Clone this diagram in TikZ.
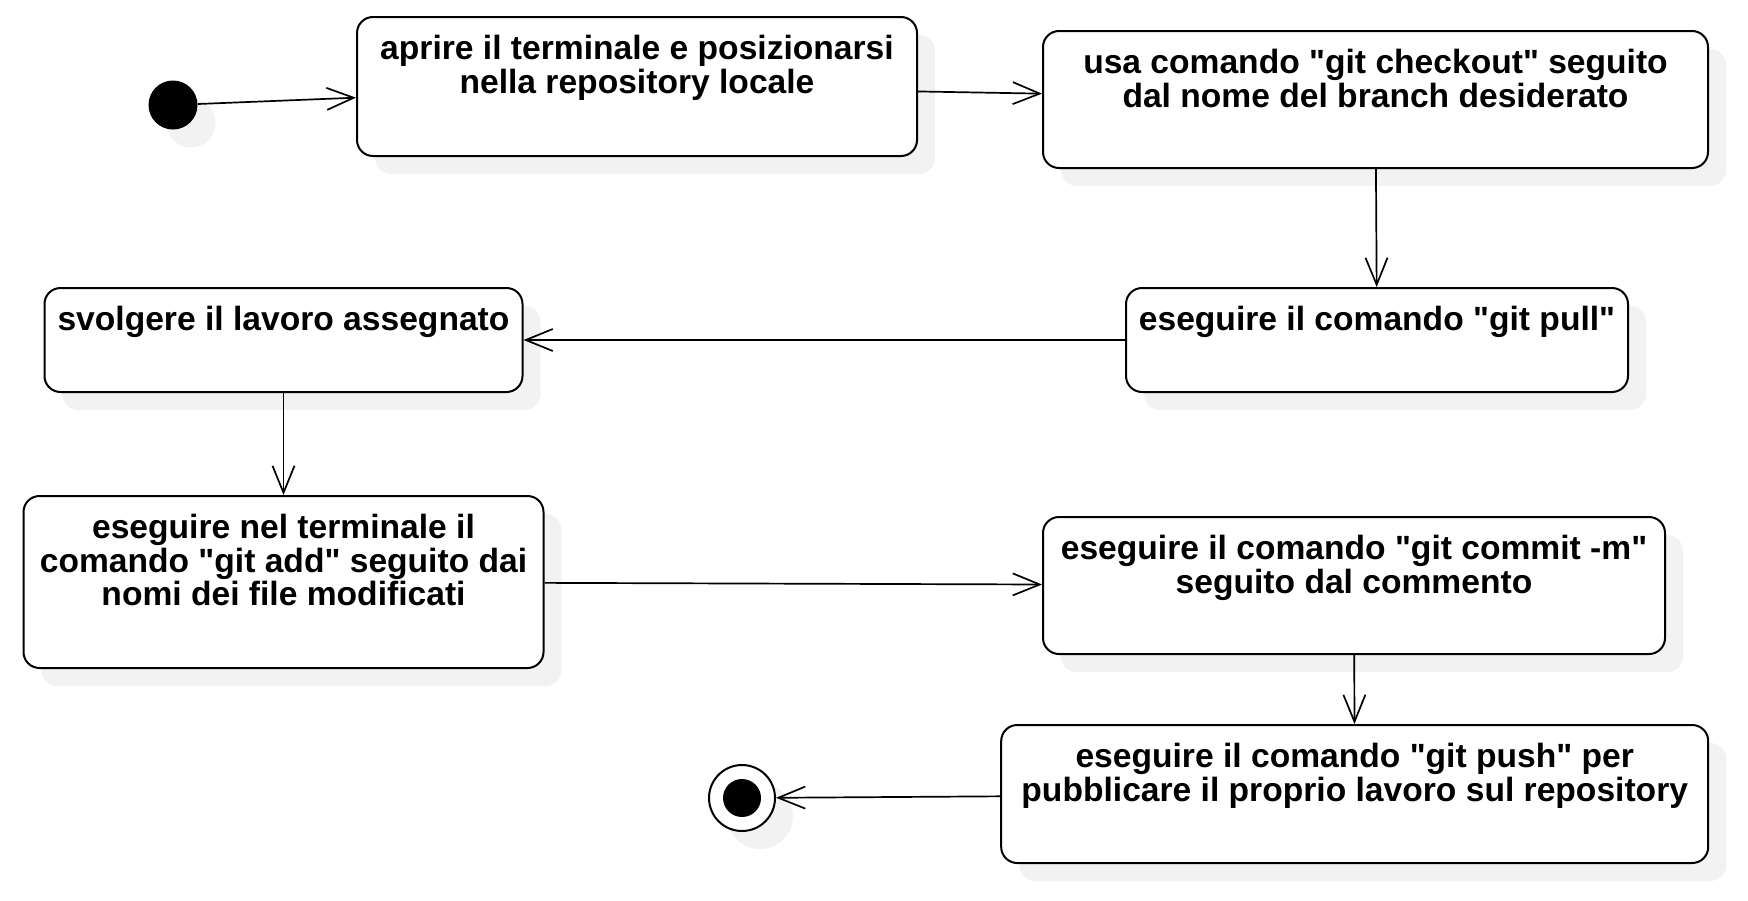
\documentclass[tikz,border=0pt]{standalone}
\usepackage{fontspec}
\setmainfont{Liberation Sans}
\usetikzlibrary{positioning}
\usetikzlibrary{arrows.meta}
\usetikzlibrary{shadows}
\newcommand{\qq}{\textquotedbl{}}

\begin{document}
\begin{tikzpicture}
    [
    x=0.5pt, y=-0.5pt,
    grey shadow/.style={drop shadow={shadow xshift=9pt, shadow yshift=-9pt, fill=black!5, opacity=1}},
    activity/.style={draw, line width=1pt, rounded corners=8pt, fill=white, inner sep=0pt, grey shadow},
    activity text/.style={align=center, inner sep=0pt, font=\bfseries\fontsize{16.8pt}{16.8pt}\selectfont},
    start state/.style={circle, fill=black, minimum size=24.5pt, inner sep=0pt, grey shadow},
    end state/.style={circle, draw, line width=1pt, fill=white, minimum size=33pt, inner sep=0pt, grey shadow},
    transition/.style={-{Straight Barb[length=13.5pt, width=11pt]}, line width=0.85pt},
    ]

    \useasboundingbox (0,0) rectangle (1748,900);

    % states
    \node[start state] (st_start) at (173,105) {};
    \node[end state] (st_end) at (742,798) {};
    \fill (st_end.center) circle [radius=9.5pt];

    % activities
    \node[activity, minimum width=280pt, minimum height=69.5pt] (act_open) at (637,86.5) {};
    \node[activity, minimum width=332.5pt, minimum height=68.5pt] (act_checkout) at (1375.5,99.5) {};
    \node[activity, minimum width=251pt, minimum height=52pt] (act_pull) at (1377,340) {};
    \node[activity, minimum width=239pt, minimum height=52pt] (act_work) at (283.5,340) {};
    \node[activity, minimum width=260pt, minimum height=86pt] (act_add) at (283.5,582) {};
    \node[activity, minimum width=311pt, minimum height=68.5pt] (act_commit) at (1354,585.5) {};
    \node[activity, minimum width=353.5pt, minimum height=69pt] (act_push) at (1354.7,794) {};

    \node[activity text, below = 9.5pt of act_open.north] (txt_open)
    {aprire il terminale e posizionarsi\\nella repository locale};
    \node[activity text, below = 9.5pt of act_checkout.north] (txt_checkout)
    {usa comando \qq git checkout\qq\ seguito\\dal nome del branch desiderato};
    \node[activity text, below = 9.5pt of act_pull.north] (txt_pull)
    {eseguire il comando \qq git pull\qq};
    \node[activity text, below = 9.5pt of act_work.north] (txt_work)
    {svolgere il lavoro assegnato};
    \node[activity text, below = 9.5pt of act_add.north] (txt_add)
    {eseguire nel terminale il\\comando \qq git add\qq\ seguito dai\\nomi dei file modificati};
    \node[activity text, below = 9.5pt of act_commit.north] (txt_commit)
    {eseguire il comando \qq git commit -m\qq\\seguito dal commento};
    \node[activity text, below = 9.5pt of act_push.north] (txt_push)
    {eseguire il comando \qq git push\qq\ per\\pubblicare il proprio lavoro sul repository};

    % transitions
    \draw[transition] (st_start) -- (act_open);
    \draw[transition] (act_open) -- (act_checkout);
    \draw[transition] (act_checkout) -- (act_pull);
    \draw[transition] (act_pull) -- (act_work);
    \draw[transition] (act_work) -- (act_add);
    \draw[transition] (act_add) -- (act_commit);
    \draw[transition] (act_commit) -- (act_push);
    \draw[transition] (act_push) -- (st_end);
\end{tikzpicture}
\end{document}
